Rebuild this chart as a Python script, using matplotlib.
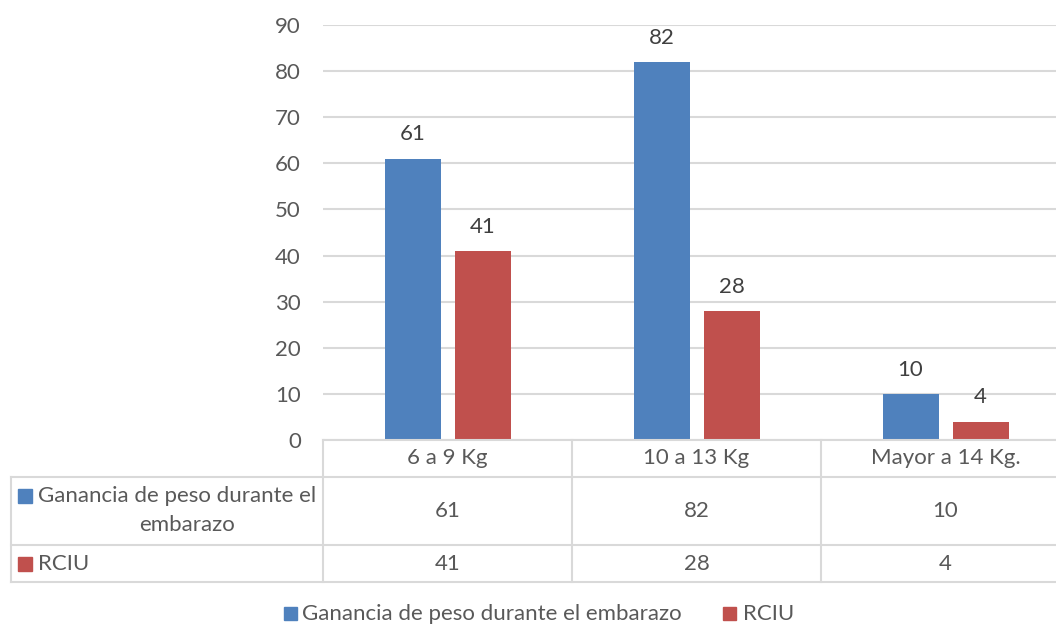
import matplotlib
matplotlib.use("Agg")
import matplotlib.pyplot as plt
from matplotlib.patches import Rectangle

categories = ["6 a 9 Kg", "10 a 13 Kg", "Mayor a 14 Kg."]
series_names = ["Ganancia de peso durante el embarazo", "RCIU"]
ganancia = [61, 82, 10]
rciu = [41, 28, 4]
yticks = [0, 10, 20, 30, 40, 50, 60, 70, 80, 90]

BLUE = "#4f81bd"
RED = "#c0504d"
GRID = "#d9d9d9"
TXT = "#595959"
LBL = "#404040"
FS = 16

plt.rcParams['font.family'] = ['Lato', 'DejaVu Sans']

W, H = 1056, 627
fig = plt.figure(figsize=(W / 100, H / 100), dpi=100)

def fx(px):
    return px / W

def fy(py):
    return 1 - py / H

ax_l, ax_r, ax_t, ax_b = 323, 1056, 25, 440
ax = fig.add_axes([fx(ax_l), fy(ax_b), fx(ax_r - ax_l), fy(ax_t) - fy(ax_b)])
catw = 249.0
ax.set_xlim(-0.5, -0.5 + (ax_r - ax_l) / catw)
ax.set_ylim(0, 90)

off = 35 / catw
bw = 56 / catw
x = list(range(len(categories)))
b1 = ax.bar([i - off for i in x], ganancia, bw, color=BLUE, zorder=3)
b2 = ax.bar([i + off for i in x], rciu, bw, color=RED, zorder=3)
for bars, vals in ((b1, ganancia), (b2, rciu)):
    for rect, v in zip(bars, vals):
        ax.annotate(str(v), (rect.get_x() + rect.get_width() / 2, v),
                    xytext=(0, 17.5), textcoords="offset points",
                    ha="center", va="center", fontsize=FS, color=LBL)

ax.set_yticks(yticks)
ax.set_yticklabels([str(t) for t in yticks], fontsize=FS, color=TXT)
ax.tick_params(axis="y", length=0, pad=16)
ax.set_xticks([])
ax.grid(axis="y", color=GRID, linewidth=1.5, zorder=0)
for s in ax.spines.values():
    s.set_visible(False)

# table overlay
tab = fig.add_axes([0, 0, 1, 1])
tab.set_xlim(0, W)
tab.set_ylim(H, 0)
tab.axis("off")
lw = 1.5
left = 11
col_edges = [ax_l + i * catw for i in range(len(categories))] + [W]
row_y = [440, 477, 545, 582]
tab.plot([ax_l, W], [row_y[0], row_y[0]], color=GRID, lw=lw)
for yy in row_y[1:]:
    tab.plot([left, W], [yy, yy], color=GRID, lw=lw)
for xx in col_edges[:-1]:
    tab.plot([xx, xx], [row_y[0], row_y[-1]], color=GRID, lw=lw)
tab.plot([left, left], [row_y[1], row_y[-1]], color=GRID, lw=lw)

for i, c in enumerate(categories):
    cx = col_edges[i] + catw / 2
    tab.text(cx, (row_y[0] + row_y[1]) / 2, c, ha="center", va="center", fontsize=FS, color=TXT)
    tab.text(cx, (row_y[1] + row_y[2]) / 2, str(ganancia[i]), ha="center", va="center", fontsize=FS, color=TXT)
    tab.text(cx, (row_y[2] + row_y[3]) / 2, str(rciu[i]), ha="center", va="center", fontsize=FS, color=TXT)

# row headers
tab.add_patch(Rectangle((18, 489), 14, 14, color=BLUE))
tab.text(38, 496, "Ganancia de peso durante el", ha="left", va="center", fontsize=FS, color=TXT)
tab.text(187, 525, "embarazo", ha="center", va="center", fontsize=FS, color=TXT)
tab.add_patch(Rectangle((18, 557), 14, 14, color=RED))
tab.text(38, 564, "RCIU", ha="left", va="center", fontsize=FS, color=TXT)

# legend
tab.add_patch(Rectangle((284, 607), 13, 13, color=BLUE))
tab.text(302, 620, series_names[0], ha="left", va="baseline", fontsize=FS, color=TXT)
tab.add_patch(Rectangle((723, 607), 13, 13, color=RED))
tab.text(743, 620, series_names[1], ha="left", va="baseline", fontsize=FS, color=TXT)

fig.savefig("out.png", dpi=100)
